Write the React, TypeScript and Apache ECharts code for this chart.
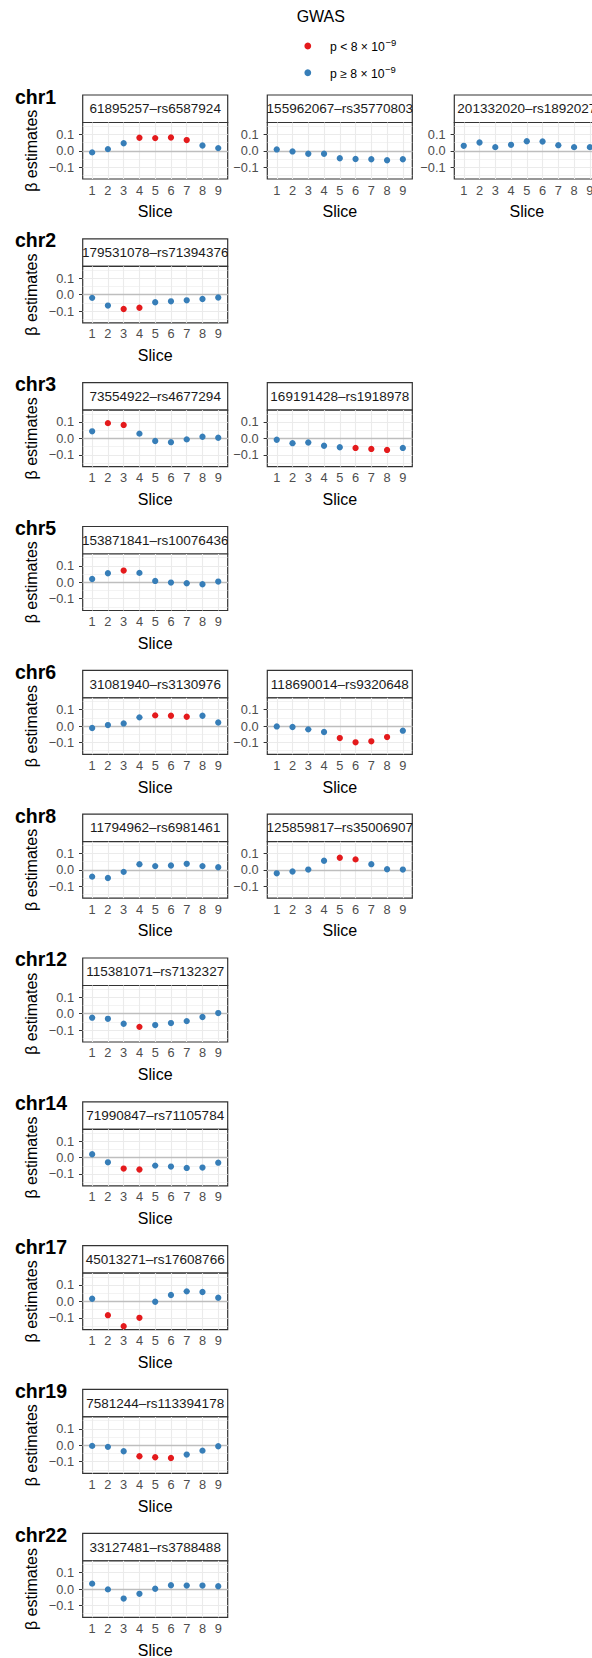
import React, { useEffect, useRef } from 'react';
import * as echarts from 'echarts';

// ---------- data ----------
const slices = [1, 2, 3, 4, 5, 6, 7, 8, 9];
const yTickValues = [-0.1, 0, 0.1];
const yTickLabels = ['−0.1', '0.0', '0.1'];
const yMinorValues = [-0.15, -0.05, 0.05, 0.15];
const yRange = [-0.172, 0.172];
const xRange = [0.4, 9.6];

const legendTitle = 'GWAS';
const legendMain = ['p < 8 × 10', 'p ≥ 8 × 10'];
const legendExponent = '−9';
const seriesNames = ['p < 8×10^-9', 'p ≥ 8×10^-9'];

const chromosomes = ['chr1', 'chr2', 'chr3', 'chr5', 'chr6', 'chr8', 'chr12', 'chr14', 'chr17', 'chr19', 'chr22'];

const chr1aLabel = '61895257–rs6587924';
const chr1aBeta = [-0.01, 0.01, 0.046, 0.079, 0.077, 0.081, 0.065, 0.032, 0.016];
const chr1aSig = [0, 0, 0, 1, 1, 1, 1, 0, 0];

const chr1bLabel = '155962067–rs35770803';
const chr1bBeta = [0.008, -0.004, -0.018, -0.018, -0.046, -0.05, -0.052, -0.058, -0.052];
const chr1bSig = [0, 0, 0, 0, 0, 0, 0, 0, 0];

const chr1cLabel = '201332020–rs1892027';
const chr1cBeta = [0.03, 0.05, 0.022, 0.036, 0.058, 0.056, 0.034, 0.022, 0.022];
const chr1cSig = [0, 0, 0, 0, 0, 0, 0, 0, 0];

const chr2Label = '179531078–rs71394376';
const chr2Beta = [-0.02, -0.067, -0.088, -0.08, -0.047, -0.041, -0.035, -0.027, -0.018];
const chr2Sig = [0, 0, 1, 1, 0, 0, 0, 0, 0];

const chr3aLabel = '73554922–rs4677294';
const chr3aBeta = [0.043, 0.093, 0.082, 0.029, -0.016, -0.023, -0.006, 0.01, 0.004];
const chr3aSig = [0, 1, 1, 0, 0, 0, 0, 0, 0];

const chr3bLabel = '169191428–rs1918978';
const chr3bBeta = [-0.008, -0.029, -0.025, -0.045, -0.054, -0.058, -0.064, -0.07, -0.058];
const chr3bSig = [0, 0, 0, 0, 0, 1, 1, 1, 0];

const chr5Label = '153871841–rs10076436';
const chr5Beta = [0.02, 0.055, 0.071, 0.057, 0.008, -0.002, -0.006, -0.012, 0.004];
const chr5Sig = [0, 0, 1, 0, 0, 0, 0, 0, 0];

const chr6aLabel = '31081940–rs3130976';
const chr6aBeta = [-0.012, 0.006, 0.016, 0.053, 0.065, 0.063, 0.057, 0.063, 0.022];
const chr6aSig = [0, 0, 0, 0, 1, 1, 1, 0, 0];

const chr6bLabel = '118690014–rs9320648';
const chr6bBeta = [-0.002, -0.006, -0.02, -0.036, -0.073, -0.099, -0.093, -0.067, -0.028];
const chr6bSig = [0, 0, 0, 0, 1, 1, 1, 1, 0];

const chr8aLabel = '11794962–rs6981461';
const chr8aBeta = [-0.041, -0.049, -0.012, 0.035, 0.023, 0.027, 0.037, 0.023, 0.016];
const chr8aSig = [0, 0, 0, 0, 0, 0, 0, 0, 0];

const chr8bLabel = '125859817–rs35006907';
const chr8bBeta = [-0.021, -0.01, 0.002, 0.056, 0.074, 0.064, 0.035, 0.004, 0.002];
const chr8bSig = [0, 0, 0, 0, 1, 1, 0, 0, 0];

const chr12Label = '115381071–rs7132327';
const chr12Beta = [-0.024, -0.031, -0.061, -0.08, -0.069, -0.057, -0.045, -0.02, 0.004];
const chr12Sig = [0, 0, 0, 1, 0, 0, 0, 0, 0];

const chr14Label = '71990847–rs71105784';
const chr14Beta = [0.02, -0.029, -0.067, -0.073, -0.049, -0.055, -0.063, -0.061, -0.031];
const chr14Sig = [0, 0, 1, 1, 0, 0, 0, 0, 0];

const chr17Label = '45013271–rs17608766';
const chr17Beta = [0.016, -0.084, -0.151, -0.1, -0.002, 0.039, 0.061, 0.057, 0.022];
const chr17Sig = [0, 1, 1, 1, 0, 0, 0, 0, 0];

const chr19Label = '7581244–rs113394178';
const chr19Beta = [-0.004, -0.01, -0.037, -0.067, -0.073, -0.078, -0.057, -0.033, -0.006];
const chr19Sig = [0, 0, 0, 1, 1, 1, 0, 0, 0];

const chr22Label = '33127481–rs3788488';
const chr22Beta = [0.033, -0.002, -0.058, -0.029, 0.002, 0.023, 0.021, 0.021, 0.017];
const chr22Sig = [0, 0, 0, 0, 0, 0, 0, 0, 0];

type Panel = { label: string; beta: number[]; sig: number[] };
const rowPanels: Panel[][] = [
  [
    { label: chr1aLabel, beta: chr1aBeta, sig: chr1aSig },
    { label: chr1bLabel, beta: chr1bBeta, sig: chr1bSig },
    { label: chr1cLabel, beta: chr1cBeta, sig: chr1cSig },
  ],
  [{ label: chr2Label, beta: chr2Beta, sig: chr2Sig }],
  [
    { label: chr3aLabel, beta: chr3aBeta, sig: chr3aSig },
    { label: chr3bLabel, beta: chr3bBeta, sig: chr3bSig },
  ],
  [{ label: chr5Label, beta: chr5Beta, sig: chr5Sig }],
  [
    { label: chr6aLabel, beta: chr6aBeta, sig: chr6aSig },
    { label: chr6bLabel, beta: chr6bBeta, sig: chr6bSig },
  ],
  [
    { label: chr8aLabel, beta: chr8aBeta, sig: chr8aSig },
    { label: chr8bLabel, beta: chr8bBeta, sig: chr8bSig },
  ],
  [{ label: chr12Label, beta: chr12Beta, sig: chr12Sig }],
  [{ label: chr14Label, beta: chr14Beta, sig: chr14Sig }],
  [{ label: chr17Label, beta: chr17Beta, sig: chr17Sig }],
  [{ label: chr19Label, beta: chr19Beta, sig: chr19Sig }],
  [{ label: chr22Label, beta: chr22Beta, sig: chr22Sig }],
];

// ---------- layout / style ----------
const W = 592;
const H = 1658;
const FONT = '"Liberation Sans", Arial, Helvetica, sans-serif';
const ROW0 = 95;
const ROW_PITCH = 143.83;
const STRIP_H = 27.5;
const PANEL_H = 56.5;
const PANEL_W = 145;
const COL_LEFT = [82.7, 267.3, 454.3];
const RED = '#E41A1C';
const BLUE = '#377EB8';
const BORDER = '#333333';
const GRID = '#EBEBEB';

function measure(text: string, size: number): number {
  const c = document.createElement('canvas').getContext('2d');
  if (!c) return text.length * size * 0.55;
  c.font = `${size}px "Liberation Sans", Arial, sans-serif`;
  return c.measureText(text).width;
}

function buildOption() {
  const grids: any[] = [];
  const xAxes: any[] = [];
  const yAxes: any[] = [];
  const series: any[] = [];
  const graphics: any[] = [];

  const gridLines = [
    ...yMinorValues.map((v) => ({ yAxis: v, lineStyle: { color: GRID, width: 0.6, type: 'solid' } })),
    ...yTickValues.map((v) => ({ yAxis: v, lineStyle: { color: GRID, width: 1.1, type: 'solid' } })),
    ...slices.map((s) => ({ xAxis: s, lineStyle: { color: GRID, width: 1.1, type: 'solid' } })),
    { yAxis: 0, lineStyle: { color: '#BEBEBE', width: 1.4, type: 'solid' } },
  ];

  rowPanels.forEach((panels, r) => {
    const T = ROW0 + r * ROW_PITCH;
    graphics.push({
      type: 'text',
      x: 15,
      y: T + 1.5,
      style: {
        text: chromosomes[r],
        fontSize: 19.5,
        fontWeight: 'bold',
        fontFamily: FONT,
        fill: '#000',
        align: 'left',
        verticalAlign: 'middle',
      },
    });

    panels.forEach((p, c) => {
      const L = COL_LEFT[c];
      // strip
      const si = grids.length;
      grids.push({
        left: L, top: T, width: PANEL_W, height: STRIP_H,
        show: true, backgroundColor: '#ffffff', borderColor: BORDER, borderWidth: 1.2,
        containLabel: false, outerBoundsMode: 'none',
      });
      xAxes.push({ gridIndex: si, type: 'value', min: 0, max: 1, show: false });
      yAxes.push({ gridIndex: si, type: 'value', min: 0, max: 1, show: false });
      const label = p.label;
      series.push({
        type: 'custom',
        xAxisIndex: si,
        yAxisIndex: si,
        clip: true,
        silent: true,
        z: 4,
        data: [[0.5, 0.5]],
        renderItem: (_params: any, api: any) => {
          const pt = api.coord([api.value(0), api.value(1)]);
          return {
            type: 'text',
            x: pt[0],
            y: pt[1],
            style: {
              text: label,
              align: 'center',
              verticalAlign: 'middle',
              fontSize: 13.5,
              fontFamily: FONT,
              fill: '#1A1A1A',
            },
          };
        },
      });

      // panel
      const pi = grids.length;
      grids.push({
        left: L, top: T + STRIP_H, width: PANEL_W, height: PANEL_H,
        show: true, backgroundColor: '#ffffff', borderColor: BORDER, borderWidth: 1.2,
        containLabel: false, outerBoundsMode: 'none',
      });
      xAxes.push({
        gridIndex: pi,
        type: 'value',
        min: xRange[0],
        max: xRange[1],
        axisLine: { show: false },
        splitLine: { show: false },
        axisTick: { show: true, length: 3.7, customValues: slices, lineStyle: { color: BORDER, width: 1 } },
        axisLabel: {
          customValues: slices,
          color: '#4D4D4D',
          fontSize: 12.8,
          fontFamily: FONT,
          margin: 11,
          verticalAlign: 'middle',
        },
        name: 'Slice',
        nameLocation: 'middle',
        nameGap: 32.7,
        nameMoveOverlap: false,
        nameTextStyle: { fontSize: 16, fontFamily: FONT, color: '#000', verticalAlign: 'middle' },
      });
      yAxes.push({
        gridIndex: pi,
        type: 'value',
        min: yRange[0],
        max: yRange[1],
        axisLine: { show: false },
        splitLine: { show: false },
        axisTick: { show: true, length: 3.7, customValues: yTickValues, lineStyle: { color: BORDER, width: 1 } },
        axisLabel: {
          customValues: yTickValues,
          color: '#4D4D4D',
          fontSize: 12.8,
          fontFamily: FONT,
          margin: 8.7,
          formatter: (v: number) => {
            const i = yTickValues.findIndex((t) => Math.abs(t - v) < 1e-9);
            return i >= 0 ? yTickLabels[i] : '';
          },
        },
        name: c === 0 ? 'β estimates' : '',
        nameLocation: 'middle',
        nameRotate: 90,
        nameGap: 51.5,
        nameMoveOverlap: false,
        nameTextStyle: { fontSize: 16, fontFamily: FONT, color: '#000', verticalAlign: 'middle' },
      });
      series.push({
        type: 'line',
        xAxisIndex: pi,
        yAxisIndex: pi,
        data: [],
        silent: true,
        z: 1,
        markLine: {
          silent: true,
          z: 1,
          zlevel: 0,
          symbol: ['none', 'none'],
          label: { show: false },
          emphasis: { disabled: true },
          lineStyle: { type: 'solid' },
          animation: false,
          data: gridLines,
        },
      });
      const sigData: number[][] = [];
      const nonData: number[][] = [];
      slices.forEach((s, k) => {
        (p.sig[k] ? sigData : nonData).push([s, p.beta[k]]);
      });
      series.push({
        type: 'scatter', name: seriesNames[0], xAxisIndex: pi, yAxisIndex: pi,
        data: sigData, symbol: 'circle', symbolSize: 6.3, silent: true, z: 6,
        itemStyle: { color: RED, opacity: 1 },
      });
      series.push({
        type: 'scatter', name: seriesNames[1], xAxisIndex: pi, yAxisIndex: pi,
        data: nonData, symbol: 'circle', symbolSize: 6.3, silent: true, z: 6,
        itemStyle: { color: BLUE, opacity: 1 },
      });
    });
  });

  // legend
  graphics.push({
    type: 'text', x: 320.8, y: 16.7,
    style: { text: legendTitle, fontSize: 16, fontFamily: FONT, fill: '#000', align: 'center', verticalAlign: 'middle' },
  });
  const legendColors = [RED, BLUE];
  const legendY = [46, 72.7];
  legendMain.forEach((t, i) => {
    graphics.push({ type: 'circle', shape: { cx: 307.8, cy: legendY[i], r: 3.4 }, style: { fill: legendColors[i] } });
    const fs = 12.2;
    const w = measure(t, fs);
    graphics.push({
      type: 'text', x: 330, y: legendY[i] + 1.4,
      style: { text: t, fontSize: fs, fontFamily: FONT, fill: '#000', align: 'left', verticalAlign: 'middle' },
    });
    graphics.push({
      type: 'text', x: 330 + w + 0.5, y: legendY[i] - 3.2,
      style: { text: legendExponent, fontSize: 9.5, fontFamily: FONT, fill: '#000', align: 'left', verticalAlign: 'middle' },
    });
  });

  return {
    animation: false,
    backgroundColor: '#ffffff',
    textStyle: { fontFamily: FONT },
    grid: grids,
    xAxis: xAxes,
    yAxis: yAxes,
    series,
    graphic: graphics,
  };
}

export default function App() {
  const ref = useRef<HTMLDivElement>(null);
  useEffect(() => {
    document.body.style.margin = '0';
    if (!ref.current) return;
    const chart = echarts.init(ref.current, undefined, { renderer: 'svg', width: W, height: H });
    chart.setOption(buildOption() as any);
    return () => chart.dispose();
  }, []);
  return <div ref={ref} style={{ width: W, height: H }} />;
}
